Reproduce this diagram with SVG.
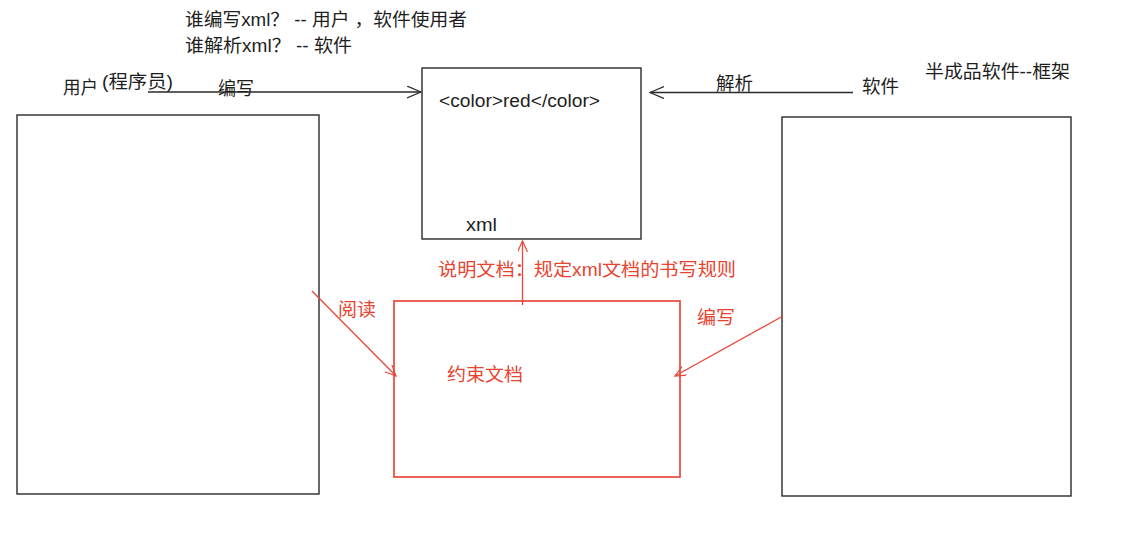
<svg xmlns="http://www.w3.org/2000/svg" width="1144" height="536" viewBox="0 0 1144 536">
<defs>
<style>
.bx{fill:none;stroke:#2a2a2a;stroke-width:1.4}
.rbx{fill:none;stroke:#e8473a;stroke-width:1.7}
.ln{fill:none;stroke:#2a2a2a;stroke-width:1.3}
.rln{fill:none;stroke:#e8473a;stroke-width:1.3}
.t{font-family:"Liberation Sans","Noto Sans CJK SC",sans-serif;font-size:18px;fill:#1e1e1e}
.rt{font-family:"Liberation Sans","Noto Sans CJK SC",sans-serif;font-size:18px;fill:#e8432f}
</style>
<marker id="ah" markerUnits="userSpaceOnUse" markerWidth="18" markerHeight="14" refX="14" refY="6" orient="auto" viewBox="0 0 18 14">
<path d="M0,0 L14,6 L0,12" fill="none" stroke="#2a2a2a" stroke-width="1.2"/>
</marker>
<marker id="rah" markerUnits="userSpaceOnUse" markerWidth="14" markerHeight="12" refX="11" refY="5" orient="auto" viewBox="0 0 14 12">
<path d="M0,0 L11,5 L0,10" fill="none" stroke="#e8473a" stroke-width="1.2"/>
</marker>
</defs>
<rect width="1144" height="536" fill="#ffffff"/>

<g id="questions">
<text class="t" x="185" y="26" textLength="282" lengthAdjust="spacingAndGlyphs">谁编写xml？ -- 用户 ，软件使用者</text>
<text class="t" x="185" y="52" textLength="167" lengthAdjust="spacingAndGlyphs">谁解析xml？ -- 软件</text>
</g>

<g id="user">
<text class="t" x="63" y="94" textLength="35" lengthAdjust="spacingAndGlyphs">用户</text>
<text class="t" x="102" y="88" textLength="71" lengthAdjust="spacingAndGlyphs">(程序员)</text>
<rect class="bx" x="17" y="115" width="302" height="379"/>
</g>

<g id="xml">
<rect class="bx" x="422" y="68" width="219" height="171"/>
<text class="t" x="439" y="107" font-size="16" textLength="161" lengthAdjust="spacingAndGlyphs">&lt;color&gt;red&lt;/color&gt;</text>
<text class="t" x="466" y="231" font-size="17" textLength="31" lengthAdjust="spacingAndGlyphs">xml</text>
</g>

<g id="software">
<text class="t" x="925" y="78" textLength="145" lengthAdjust="spacingAndGlyphs">半成品软件--框架</text>
<text class="t" x="862" y="93" textLength="37" lengthAdjust="spacingAndGlyphs">软件</text>
<rect class="bx" x="782" y="117" width="289" height="379"/>
</g>

<g id="constraint">
<rect class="rbx" x="394" y="301" width="286" height="176"/>
<text class="rt" x="447" y="381" textLength="76" lengthAdjust="spacingAndGlyphs">约束文档</text>
</g>

<g id="connectors">
<line class="ln" x1="148" y1="92" x2="421" y2="92" marker-end="url(#ah)"/>
<text class="t" x="218" y="95" textLength="36" lengthAdjust="spacingAndGlyphs">编写</text>
<line class="ln" x1="853" y1="92.5" x2="650" y2="92.5" marker-end="url(#ah)"/>
<text class="t" x="716" y="90" textLength="37" lengthAdjust="spacingAndGlyphs">解析</text>
<line class="rln" x1="522.5" y1="305" x2="522.5" y2="241" marker-end="url(#rah)"/>
<text class="rt" x="438" y="276" textLength="298" lengthAdjust="spacingAndGlyphs">说明文档：规定xml文档的书写规则</text>
<line class="rln" x1="312" y1="291" x2="396" y2="376" marker-end="url(#rah)"/>
<text class="rt" x="338" y="316" textLength="38" lengthAdjust="spacingAndGlyphs">阅读</text>
<line class="rln" x1="783" y1="316" x2="675" y2="376" marker-end="url(#rah)"/>
<text class="rt" x="697" y="324" textLength="38" lengthAdjust="spacingAndGlyphs">编写</text>
</g>
</svg>
